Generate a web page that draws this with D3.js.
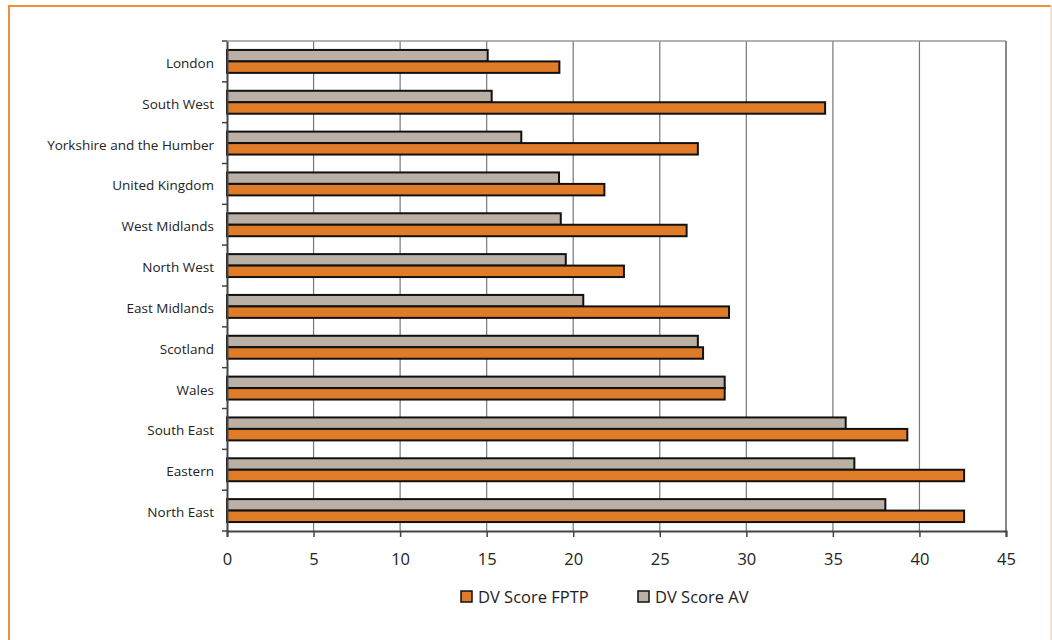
<!DOCTYPE html>
<html><head><meta charset="utf-8">
<script src="https://cdn.jsdelivr.net/npm/d3@7"></script>
<style>
html,body{margin:0;padding:0;background:#fff;}
svg{display:block;}
text{font-family:"Open Sans","Noto Sans",sans-serif;fill:#222;}
</style></head><body>
<svg id="chart" width="1052" height="640"></svg>
<script>
const categories = ["London","South West","Yorkshire and the Humber","United Kingdom","West Midlands","North West","East Midlands","Scotland","Wales","South East","Eastern","North East"];
const fptp = [19.2,34.55,27.2,21.8,26.55,22.93,29.0,27.5,28.75,39.3,42.58,42.58];
const av = [15.06,15.29,17.0,19.18,19.28,19.57,20.58,27.2,28.75,35.74,36.24,38.03];
const xTicks = [0,5,10,15,20,25,30,35,40,45];
const seriesNames = ["DV Score FPTP","DV Score AV"];

const svg = d3.select("#chart");
// outer border
svg.append("line").attr("x1",9).attr("x2",1051).attr("y1",6).attr("y2",6).attr("stroke","#EE8F3E").attr("stroke-width",2);
svg.append("line").attr("x1",9).attr("x2",9).attr("y1",5).attr("y2",640).attr("stroke","#EE8F3E").attr("stroke-width",2);
svg.append("line").attr("x1",1051).attr("x2",1051).attr("y1",6).attr("y2",640).attr("stroke","#F6D9BE").attr("stroke-width",1.5);

const pL=227, pR=1006, pT=41, pB=531;
const x = d3.scaleLinear().domain([0,45]).range([pL,pR]);
const y = d3.scaleBand().domain(categories).range([pT,pB]);
const inner = d3.scaleBand().domain(["av","fptp"]).range([0,y.bandwidth()]).paddingOuter(0.78).paddingInner(0);

// gridlines
svg.append("g").selectAll("line").data(xTicks.slice(1)).join("line")
  .attr("x1",d=>x(d)).attr("x2",d=>x(d)).attr("y1",pT).attr("y2",pB)
  .attr("stroke","#777").attr("stroke-width",1.2);
// frame
svg.append("line").attr("x1",pL).attr("x2",pR).attr("y1",pT).attr("y2",pT).attr("stroke","#999").attr("stroke-width",1.5);
svg.append("line").attr("x1",pR).attr("x2",pR).attr("y1",pT).attr("y2",pB).attr("stroke","#888").attr("stroke-width",2);

const rows = categories.map((c,i)=>({c, av:av[i], fptp:fptp[i]}));
const g = svg.append("g");
g.selectAll("rect.av").data(rows).join("rect").attr("class","av")
  .attr("x",x(0)).attr("y",d=>y(d.c)+inner("av")).attr("width",d=>x(d.av)-x(0)).attr("height",inner.bandwidth())
  .attr("fill","#BAB0A6").attr("stroke","#111").attr("stroke-width",2);
g.selectAll("rect.fp").data(rows).join("rect").attr("class","fp")
  .attr("x",x(0)).attr("y",d=>y(d.c)+inner("fptp")).attr("width",d=>x(d.fptp)-x(0)).attr("height",inner.bandwidth())
  .attr("fill","#E07B28").attr("stroke","#111").attr("stroke-width",2);

// x axis
const xAxis = d3.axisBottom(x).tickValues(xTicks).tickSize(6).tickPadding(16);
const xa = svg.append("g").attr("transform",`translate(0,${pB})`).call(xAxis);
xa.select(".domain").attr("stroke","#444").attr("stroke-width",2);
xa.selectAll(".tick line").attr("stroke","#444").attr("stroke-width",1.5);
xa.selectAll("text").attr("font-size",16.5).attr("font-family","Open Sans").attr("fill","#222");

// y axis
const ya = svg.append("g").attr("transform",`translate(${pL},0)`).call(d3.axisLeft(y).tickSize(0).tickPadding(13));
ya.select(".domain").attr("stroke","#444").attr("stroke-width",2);
ya.selectAll("text").attr("font-size",13.5).attr("font-family","Open Sans").attr("fill","#222").attr("dy","0.48em");
// category boundary ticks
svg.append("g").selectAll("line").data(d3.range(categories.length+1)).join("line")
  .attr("x1",pL-5).attr("x2",pL).attr("y1",i=>pT+i*y.step()).attr("y2",i=>pT+i*y.step())
  .attr("stroke","#444").attr("stroke-width",1.5);

// legend
const legend = svg.append("g");
const lx = [461,638], fills=["#E07B28","#BAB0A6"];
seriesNames.forEach((n,i)=>{
  legend.append("rect").attr("x",lx[i]).attr("y",591).attr("width",11).attr("height",11)
    .attr("fill",fills[i]).attr("stroke","#111").attr("stroke-width",1.5);
  legend.append("text").attr("x",lx[i]+17).attr("y",603).attr("font-size",16.5).text(n);
});
</script></body></html>
